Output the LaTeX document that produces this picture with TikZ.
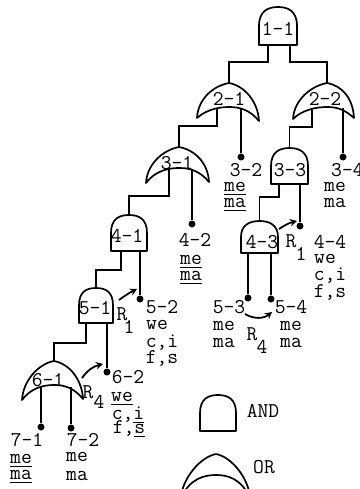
\documentclass[tikz,border=0pt]{standalone}
\usetikzlibrary{arrows.meta}
\newcommand\andgate[5]{% name, left, right, top, bottom
  \pgfmathsetmacro\mx{(#2+#3)/2}
  \pgfmathsetmacro\sy{#4+0.5*(#5-#4)}
  \draw[gate] (#2,#5) -- (#2,\sy) .. controls (#2,#4+4) and (\mx-10,#4) .. (\mx,#4)
     .. controls (\mx+10,#4) and (#3,#4+4) .. (#3,\sy) -- (#3,#5) -- cycle;
  \coordinate (#1) at (\mx,#4);
}
\newcommand\orgate[8]{% name, tipL x,y, top x,y, tipR x,y, inner y
  \draw[gate] (#2,#3) .. controls (#2+1,#3-19) and (#4-16,#5+3) .. (#4,#5)
     .. controls (#4+16,#5+3) and (#6-1,#7-19) .. (#6,#7)
     .. controls (#6-9,#8+3) and (#4+11,#8) .. (#4,#8)
     .. controls (#4-11,#8) and (#2+9,#8+3) .. (#2,#3) -- cycle;
  \coordinate (#1) at (#4,#5);
}
\newcommand\ulx[1]{\setbox0\hbox{#1}\rlap{\rule[-3.2pt]{\wd0}{1pt}}\box0}
\tikzset{
  gate/.style={line width=1.7pt, line join=round},
  wire/.style={line width=1.6pt},
  flow/.style={line width=1.8pt, -{Stealth[length=7pt,width=7.5pt]}},
  terminal/.style={circle, fill=black, inner sep=0pt, minimum size=7pt},
  txt/.style={font=\ttfamily\fontsize{21}{25}\selectfont, inner sep=0pt, text height=13pt, text depth=0pt},
  lc/.style={font=\ttfamily\fontsize{21}{25}\selectfont, inner sep=0pt, text height=9pt, text depth=0pt},
}
\begin{document}
\begin{tikzpicture}[x=1pt,y=-1pt]
\useasboundingbox (0,0) rectangle (359,489);
\clip (0,0) rectangle (359,489);
% gates
\andgate{g11}{259}{297}{7}{45}
\orgate{g21}{197}{118}{229}{83}{259}{121}{107}
\orgate{g22}{293}{119}{327}{83}{354}{118}{107}
\orgate{g31}{146}{183}{179}{147}{209}{182}{168}
\andgate{g33}{271}{308}{148}{184}
\andgate{g41}{111}{147}{215}{251}
\andgate{g43}{241}{278}{221}{253}
\andgate{g51}{79}{113}{288}{323}
\orgate{g61}{22}{400}{54}{361}{83}{399}{385}
\andgate{legAnd}{200}{236}{395}{431}
\orgate{legOr}{181}{498}{216}{454}{250}{498}{475}
% terminals
\node[terminal] (t32) at (241,157) {};
\node[terminal] (t34) at (343,157) {};
\node[terminal] (t42) at (192,224) {};
\node[terminal] (t44) at (300,226) {};
\node[terminal] (t52) at (140,299) {};
\node[terminal] (t53) at (248,298) {};
\node[terminal] (t54) at (271,299) {};
\node[terminal] (t62) at (107,372) {};
\node[terminal] (t71) at (41,427) {};
\node[terminal] (t72) at (71,428) {};
% connectors
\draw[wire] (268,45) -- (268,62) -| (g21);
\draw[wire] (290,45) -- (290,62) -| (g22);
\draw[wire] (217,108) -- (217,126) -| (g31);
\draw[wire] (241,108) -- (t32);
\draw[wire] (312,110) -- (312,127) -| (g33);
\draw[wire] (343,108) -- (t34);
\draw[wire] (169,169) -- (169,196) -| (g41);
\draw[wire] (192,169) -- (t42);
\draw[wire] (279,184) -- (279,197) -| (g43);
\draw[wire] (300,184) -- (t44);
\draw[wire] (121,251) -- (121,270) -| (g51);
\draw[wire] (140,251) -- (t52);
\draw[wire] (248,253) -- (t53);
\draw[wire] (271,253) -- (t54);
\draw[wire] (86,323) -- (86,343) -| (g61);
\draw[wire] (107,323) -- (t62);
\draw[wire] (41,387) -- (t71);
\draw[wire] (71,387) -- (t72);
% arrows
\coordinate (a1s) at (279,229); \coordinate (a1e) at (297,221);
\coordinate (a2s) at (245,314); \coordinate (a2e) at (272,312);
\coordinate (a3s) at (119,300); \coordinate (a3e) at (137,289);
\coordinate (a4s) at (82,378);  \coordinate (a4e) at (103,364);
\draw[flow] (a1s) to[bend left=10] (a1e);
\draw[flow] (a2s) to[bend right=35] (a2e);
\draw[flow] (a3s) to[bend left=5] (a3e);
\draw[flow] (a4s) to[bend left=20] (a4e);
% gate labels
\node[txt] (l11) at (278,29) {1-1};
\node[txt] (l21) at (229,99) {2-1};
\node[txt] (l22) at (325,99) {2-2};
\node[txt] (l31) at (177,163) {3-1};
\node[txt] (l33) at (290,170) {3-3};
\node[txt] (l41) at (127,236) {4-1};
\node[txt] (l43) at (262,242) {4-3};
\node[txt] (l51) at (95,308) {5-1};
\node[txt] (l61) at (48,380) {6-1};
% terminal labels
\node[txt] (n32) at (246,170) {3-2};
\node[lc] (n32a) at (235,187) {\ulx{me}};
\node[lc] (n32b) at (235,203) {\ulx{ma}};
\node[txt,anchor=west] (n34) at (331,170) {3-4};
\node[lc] (n34a) at (335,187) {me};
\node[lc] (n34b) at (335,203) {ma};
\node[txt] (n42) at (195,240) {4-2};
\node[lc] (n42a) at (191,260) {\ulx{me}};
\node[lc] (n42b) at (191,276) {\ulx{ma}};
\node[txt] (n44) at (330,242) {4-4};
\node[lc] (n44a) at (325,259) {we};
\node[lc] (n44b) at (330,276) {c,i};
\node[lc] (n44c) at (330,293) {f,s};
\node[txt] (n52) at (162,307) {5-2};
\node[lc] (n52a) at (157,325) {we};
\node[lc] (n52b) at (162,343) {c,i};
\node[lc] (n52c) at (162,359) {f,s};
\node[txt] (n53) at (229,307) {5-3};
\node[lc] (n53a) at (224,326) {me};
\node[lc] (n53b) at (224,343) {ma};
\node[txt] (n54) at (291,307) {5-4};
\node[lc] (n54a) at (291,326) {me};
\node[lc] (n54b) at (291,343) {ma};
\node[txt] (n62) at (128,377) {6-2};
\node[lc] (n62a) at (122,397) {\ulx{we}};
\node[lc] (n62b) at (128,415) {c,\ulx{i}};
\node[lc] (n62c) at (129,429) {f,\ulx{s}};
\node[txt] (n71) at (27,440) {7-1};
\node[lc] (n71a) at (21,459) {\ulx{me}};
\node[lc] (n71b) at (21,475) {\ulx{ma}};
\node[txt] (n72) at (83,440) {7-2};
\node[lc] (n72a) at (77,457) {me};
\node[lc] (n72b) at (77,476) {ma};
% rule labels
\node[txt] (r1a) at (291,241) {R};
\node[txt] (r1as) at (301,254) {1};
\node[txt] (r4a) at (252,334) {R};
\node[txt] (r4as) at (262,347) {4};
\node[txt] (r1b) at (122,314) {R};
\node[txt] (r1bs) at (129,327) {1};
\node[txt] (r4b) at (88,392) {R};
\node[txt] (r4bs) at (99,402) {4};
% legend
\node[txt] (lgA) at (263,411) {AND};
\node[txt] (lgO) at (264,467) {OR};
\end{tikzpicture}
\end{document}
